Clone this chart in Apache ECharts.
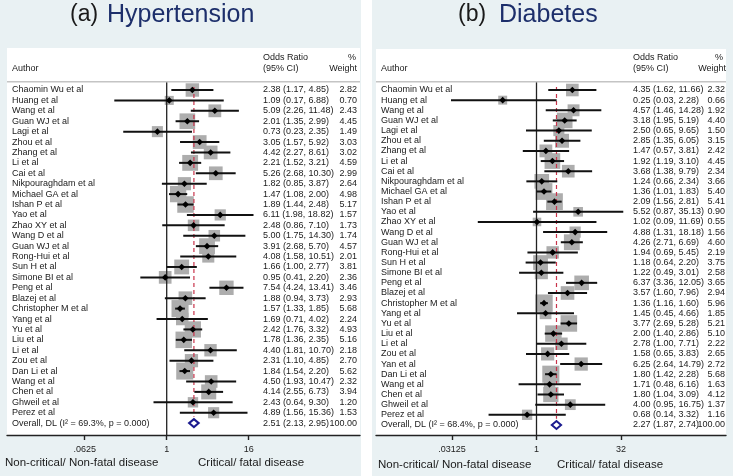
<!DOCTYPE html>
<html><head><meta charset="utf-8">
<script src="https://cdn.jsdelivr.net/npm/echarts@6/dist/echarts.min.js"></script>
<style>
html,body{margin:0;padding:0;background:#fff;}
#wrap{position:relative;width:733px;height:476px;}
.bg{position:absolute;top:0;height:476px;background:#e9f1f3;}
#chart{position:absolute;left:0;top:0;width:733px;height:476px;}
</style></head>
<body><div id="wrap"><div class="bg" style="left:0;width:361px"></div><div class="bg" style="left:372px;width:361px"></div><div id="chart"></div></div>
<script>
// ---------- (a) Hypertension ----------
const authorsA = ['Chaomin Wu et al','Huang et al','Wang et al','Guan WJ et al','Lagi et al','Zhou et al','Zhang et al','Li et al','Cai et al','Nikpouraghdam et al','Michael GA et al','Ishan P et al','Yao et al','Zhao XY et al','Wang D et al','Guan WJ et al','Rong-Hui et al','Sun H et al','Simone BI et al','Peng et al','Blazej et al','Christopher M et al','Yang et al','Yu et al','Liu et al','Li et al','Zou et al','Dan Li et al','Wang et al','Chen et al','Ghweil et al','Perez et al'];
const orA = [2.38,1.09,5.09,2.01,0.73,3.05,4.42,2.21,5.26,1.82,1.47,1.89,6.11,2.48,5.00,3.91,4.08,1.66,0.95,7.54,1.88,1.57,1.69,2.42,1.78,4.40,2.31,1.84,4.50,4.14,2.43,4.89];
const loA = [1.17,0.17,2.26,1.35,0.23,1.57,2.27,1.52,2.68,0.85,1.08,1.44,1.98,0.86,1.75,2.68,1.58,1.00,0.41,4.24,0.94,1.33,0.71,1.76,1.36,1.81,1.10,1.54,1.93,2.55,0.64,1.56];
const hiA = [4.85,6.88,11.48,2.99,2.35,5.92,8.61,3.21,10.30,3.87,2.00,2.48,18.82,7.10,14.30,5.70,10.51,2.77,2.20,13.41,3.73,1.85,4.02,3.32,2.35,10.70,4.85,2.20,10.47,6.73,9.30,15.36];
const wA = [2.82,0.70,2.43,4.45,1.49,3.03,3.02,4.59,2.99,2.64,4.98,5.17,1.57,1.73,1.74,4.57,2.01,3.81,2.36,3.46,2.93,5.68,2.24,4.93,5.16,2.18,2.70,5.62,2.32,3.94,1.20,1.53];
const overallA = [2.51, 2.13, 2.95];
const overallLabelA = 'Overall, DL (I\u00B2 = 69.3%, p = 0.000)';
const tickValsA = [0.0625, 1, 16];
const tickLabelsA = ['.0625', '1', '16'];

// ---------- (b) Diabetes ----------
const authorsB = ['Chaomin Wu et al','Huang et al','Wang et al','Guan WJ et al','Lagi et al','Zhou et al','Zhang et al','Li et al','Cai et al','Nikpouraghdam et al','Michael GA et al','Ishan P et al','Yao et al','Zhao XY et al','Wang D et al','Guan WJ et al','Rong-Hui et al','Sun H et al','Simone BI et al','Peng et al','Blazej et al','Christopher M et al','Yang et al','Yu et al','Liu et al','Li et al','Zou et al','Yan et al','Dan Li et al','Wang et al','Chen et al','Ghweil et al','Perez et al'];
const orB = [4.35,0.25,4.57,3.18,2.50,2.85,1.47,1.92,3.68,1.24,1.36,2.09,5.52,1.02,4.88,4.26,1.94,1.18,1.22,6.37,3.57,1.36,1.45,3.77,2.00,2.78,1.58,6.25,1.80,1.71,1.80,4.00,0.68];
const loB = [1.62,0.03,1.46,1.95,0.65,1.35,0.57,1.19,1.38,0.66,1.01,1.56,0.87,0.09,1.31,2.71,0.69,0.64,0.49,3.36,1.60,1.16,0.45,2.69,1.40,1.00,0.65,2.64,1.42,0.48,1.04,0.95,0.14];
const hiB = [11.66,2.28,14.28,5.19,9.65,6.05,3.81,3.10,9.79,2.34,1.83,2.81,35.13,11.69,18.18,6.69,5.45,2.20,3.01,12.05,7.96,1.60,4.66,5.28,2.86,7.71,3.83,14.79,2.28,6.16,3.09,16.75,3.32];
const wB = [2.32,0.66,1.92,4.40,1.50,3.15,2.42,4.45,2.34,3.66,5.40,5.41,0.90,0.55,1.56,4.60,2.19,3.75,2.58,3.65,2.94,5.96,1.85,5.21,5.10,2.22,2.65,2.72,5.68,1.63,4.12,1.37,1.16];
const overallB = [2.27, 1.87, 2.74];
const overallLabelB = 'Overall, DL (I\u00B2 = 68.4%, p = 0.000)';
const tickValsB = [0.03125, 1, 32];
const tickLabelsB = ['.03125', '1', '32'];

const FONT = '"Liberation Sans", Arial, sans-serif';
const f2 = v => v.toFixed(2);

const panels = [
  {authors: authorsA, or: orA, lo: loA, hi: hiA, w: wA, ov: overallA, ovLabel: overallLabelA,
   ticks: tickValsA, tickLabels: tickLabelsA,
   gl: 7, gr: 360, top: 48, bottom: 435, row0: 90, step: 10.41, oneX: 166.7, perLog: 20.5,
   ciOff: 256, wRightOff: 350},
  {authors: authorsB, or: orB, lo: loB, hi: hiB, w: wB, ov: overallB, ovLabel: overallLabelB,
   ticks: tickValsB, tickLabels: tickLabelsB,
   gl: 376, gr: 726, top: 49, bottom: 435, row0: 90, step: 10.15, oneX: 536.5, perLog: 16.9,
   ciOff: 257, wRightOff: 349}
];

const grids = [], xAxes = [], yAxes = [], series = [];
panels.forEach((p, k) => {
  const n = p.authors.length;
  grids.push({left: p.gl, top: p.top, width: p.gr - p.gl, height: p.bottom - p.top,
    show: true, backgroundColor: '#ffffff', borderWidth: 0});
  xAxes.push({type: 'log', logBase: 2, gridIndex: k,
    min: Math.pow(2, (p.gl - p.oneX) / p.perLog), max: Math.pow(2, (p.gr - p.oneX) / p.perLog),
    axisLine: {show: true, onZero: false, lineStyle: {color: '#222', width: 1.4}},
    axisTick: {show: true, customValues: p.ticks, length: 5, lineStyle: {color: '#222', width: 1.4}},
    axisLabel: {show: true, customValues: p.ticks, margin: 10, fontSize: 9, fontFamily: FONT, color: '#222',
      formatter: v => { for (let i = 0; i < p.ticks.length; i++) { if (Math.abs(Math.log2(v) - Math.log2(p.ticks[i])) < 0.01) return p.tickLabels[i]; } return ''; }},
    splitLine: {show: false}, minorTick: {show: false}});
  yAxes.push({type: 'value', gridIndex: k, inverse: true, show: false,
    min: (p.top - p.row0) / p.step, max: (p.bottom - p.row0) / p.step});
  const studyData = p.or.map((v, i) => [v, p.lo[i], p.hi[i], p.w[i], i]);
  const sepRow = (82 - p.row0) / p.step;
  // weight boxes
  series.push({type: 'custom', xAxisIndex: k, yAxisIndex: k, z: 1, clip: false, silent: true,
    data: studyData,
    renderItem: (params, api) => {
      const pt = api.coord([api.value(0), api.value(4)]);
      const s = 4.7 + 5.2 * Math.sqrt(api.value(3));
      return {type: 'rect', shape: {x: pt[0] - s / 2, y: pt[1] - s / 2, width: s, height: s},
        style: {fill: '#adadad'}};
    }});
  // reference line at 1
  series.push({type: 'line', xAxisIndex: k, yAxisIndex: k, z: 2, silent: true, symbol: 'none',
    data: [[1, sepRow], [1, (p.bottom - p.row0) / p.step]],
    lineStyle: {color: '#222', width: 1.3}});
  // overall dashed line
  series.push({type: 'line', xAxisIndex: k, yAxisIndex: k, z: 2, silent: true, symbol: 'none',
    data: [[p.ov[0], -0.3], [p.ov[0], n - 0.6]],
    lineStyle: {color: '#c8334a', width: 1.2, type: [4, 3]}});
  // CI lines, point estimates and text
  series.push({type: 'custom', xAxisIndex: k, yAxisIndex: k, z: 3, clip: false, silent: true,
    data: studyData,
    renderItem: (params, api) => {
      const i = params.dataIndex;
      const row = api.value(4);
      const pOr = api.coord([api.value(0), row]);
      const pLo = api.coord([api.value(1), row]);
      const pHi = api.coord([api.value(2), row]);
      const cs = params.coordSys;
      const d = 3.3, y = pOr[1];
      const txt = {fill: '#1a1a1a', fontSize: 9, fontFamily: FONT, verticalAlign: 'middle'};
      return {type: 'group', children: [
        {type: 'line', shape: {x1: pLo[0], y1: y, x2: pHi[0], y2: y}, style: {stroke: '#111', lineWidth: 2}},
        {type: 'polygon', shape: {points: [[pOr[0] - d, y], [pOr[0], y - d], [pOr[0] + d, y], [pOr[0], y + d]]}, style: {fill: '#000'}},
        {type: 'text', x: cs.x + 5, y: y, style: Object.assign({text: p.authors[i], align: 'left'}, txt)},
        {type: 'text', x: cs.x + p.ciOff, y: y, style: Object.assign({text: f2(p.or[i]) + ' (' + f2(p.lo[i]) + ', ' + f2(p.hi[i]) + ')', align: 'left'}, txt)},
        {type: 'text', x: cs.x + p.wRightOff, y: y, style: Object.assign({text: f2(p.w[i]), align: 'right'}, txt)}
      ]};
    }});
  // overall diamond
  series.push({type: 'custom', xAxisIndex: k, yAxisIndex: k, z: 3, clip: false, silent: true,
    data: [[p.ov[0], p.ov[1], p.ov[2], n]],
    renderItem: (params, api) => {
      const row = api.value(3);
      const pOr = api.coord([api.value(0), row]);
      const pLo = api.coord([api.value(1), row]);
      const pHi = api.coord([api.value(2), row]);
      const cs = params.coordSys;
      const y = pOr[1], h = 4;
      const txt = {fill: '#1a1a1a', fontSize: 9, fontFamily: FONT, verticalAlign: 'middle'};
      return {type: 'group', children: [
        {type: 'polygon', shape: {points: [[pLo[0], y], [pOr[0], y - h], [pHi[0], y], [pOr[0], y + h]]},
          style: {fill: '#fff', stroke: '#1b1b8f', lineWidth: 2}},
        {type: 'text', x: cs.x + 5, y: y, style: Object.assign({text: p.ovLabel, align: 'left'}, txt)},
        {type: 'text', x: cs.x + p.ciOff, y: y, style: Object.assign({text: f2(p.ov[0]) + ' (' + f2(p.ov[1]) + ', ' + f2(p.ov[2]) + ')', align: 'left'}, txt)},
        {type: 'text', x: cs.x + p.wRightOff, y: y, style: Object.assign({text: '100.00', align: 'right'}, txt)}
      ]};
    }});
});

function T(text, x, y, size, color, align) {
  return {type: 'text', x: x, y: y, z: 50, silent: true,
    style: {text: text, fill: color || '#1a1a1a', fontSize: size, fontFamily: FONT, align: align || 'left', verticalAlign: 'middle'}};
}
const graphicEls = [
  T('(a)', 70, 15, 23, '#1a1a1a'), T('Hypertension', 107, 15, 25, '#1d2f6b'),
  T('(b)', 458, 15, 23, '#1a1a1a'), T('Diabetes', 499, 15, 25, '#1d2f6b'),
  T('Author', 12, 69, 9), T('Odds Ratio', 263, 58, 9), T('(95% CI)', 263, 69, 9), T('%', 356, 58, 9, null, 'right'), T('Weight', 357, 69, 9, null, 'right'),
  T('Author', 381, 69, 9), T('Odds Ratio', 633, 58, 9), T('(95% CI)', 633, 69, 9), T('%', 723, 58, 9, null, 'right'), T('Weight', 726, 69, 9, null, 'right'),
  T('Non-critical/ Non-fatal disease', 5, 463, 11.5), T('Critical/ fatal disease', 198, 463, 11.5),
  T('Non-critical/ Non-fatal disease', 378, 465, 11.5), T('Critical/ fatal disease', 557, 465, 11.5),
  {type: 'rect', z: 50, silent: true, shape: {x: 7, y: 81, width: 353, height: 1.6}, style: {fill: '#c4c4c4'}},
  {type: 'rect', z: 50, silent: true, shape: {x: 376, y: 81, width: 350, height: 1.6}, style: {fill: '#c4c4c4'}}
];

const chart = echarts.init(document.getElementById('chart'), null, {renderer: 'canvas'});
chart.setOption({
  backgroundColor: 'transparent',
  animation: false,
  grid: grids, xAxis: xAxes, yAxis: yAxes, series: series,
  graphic: {elements: graphicEls}
});
</script></body></html>
